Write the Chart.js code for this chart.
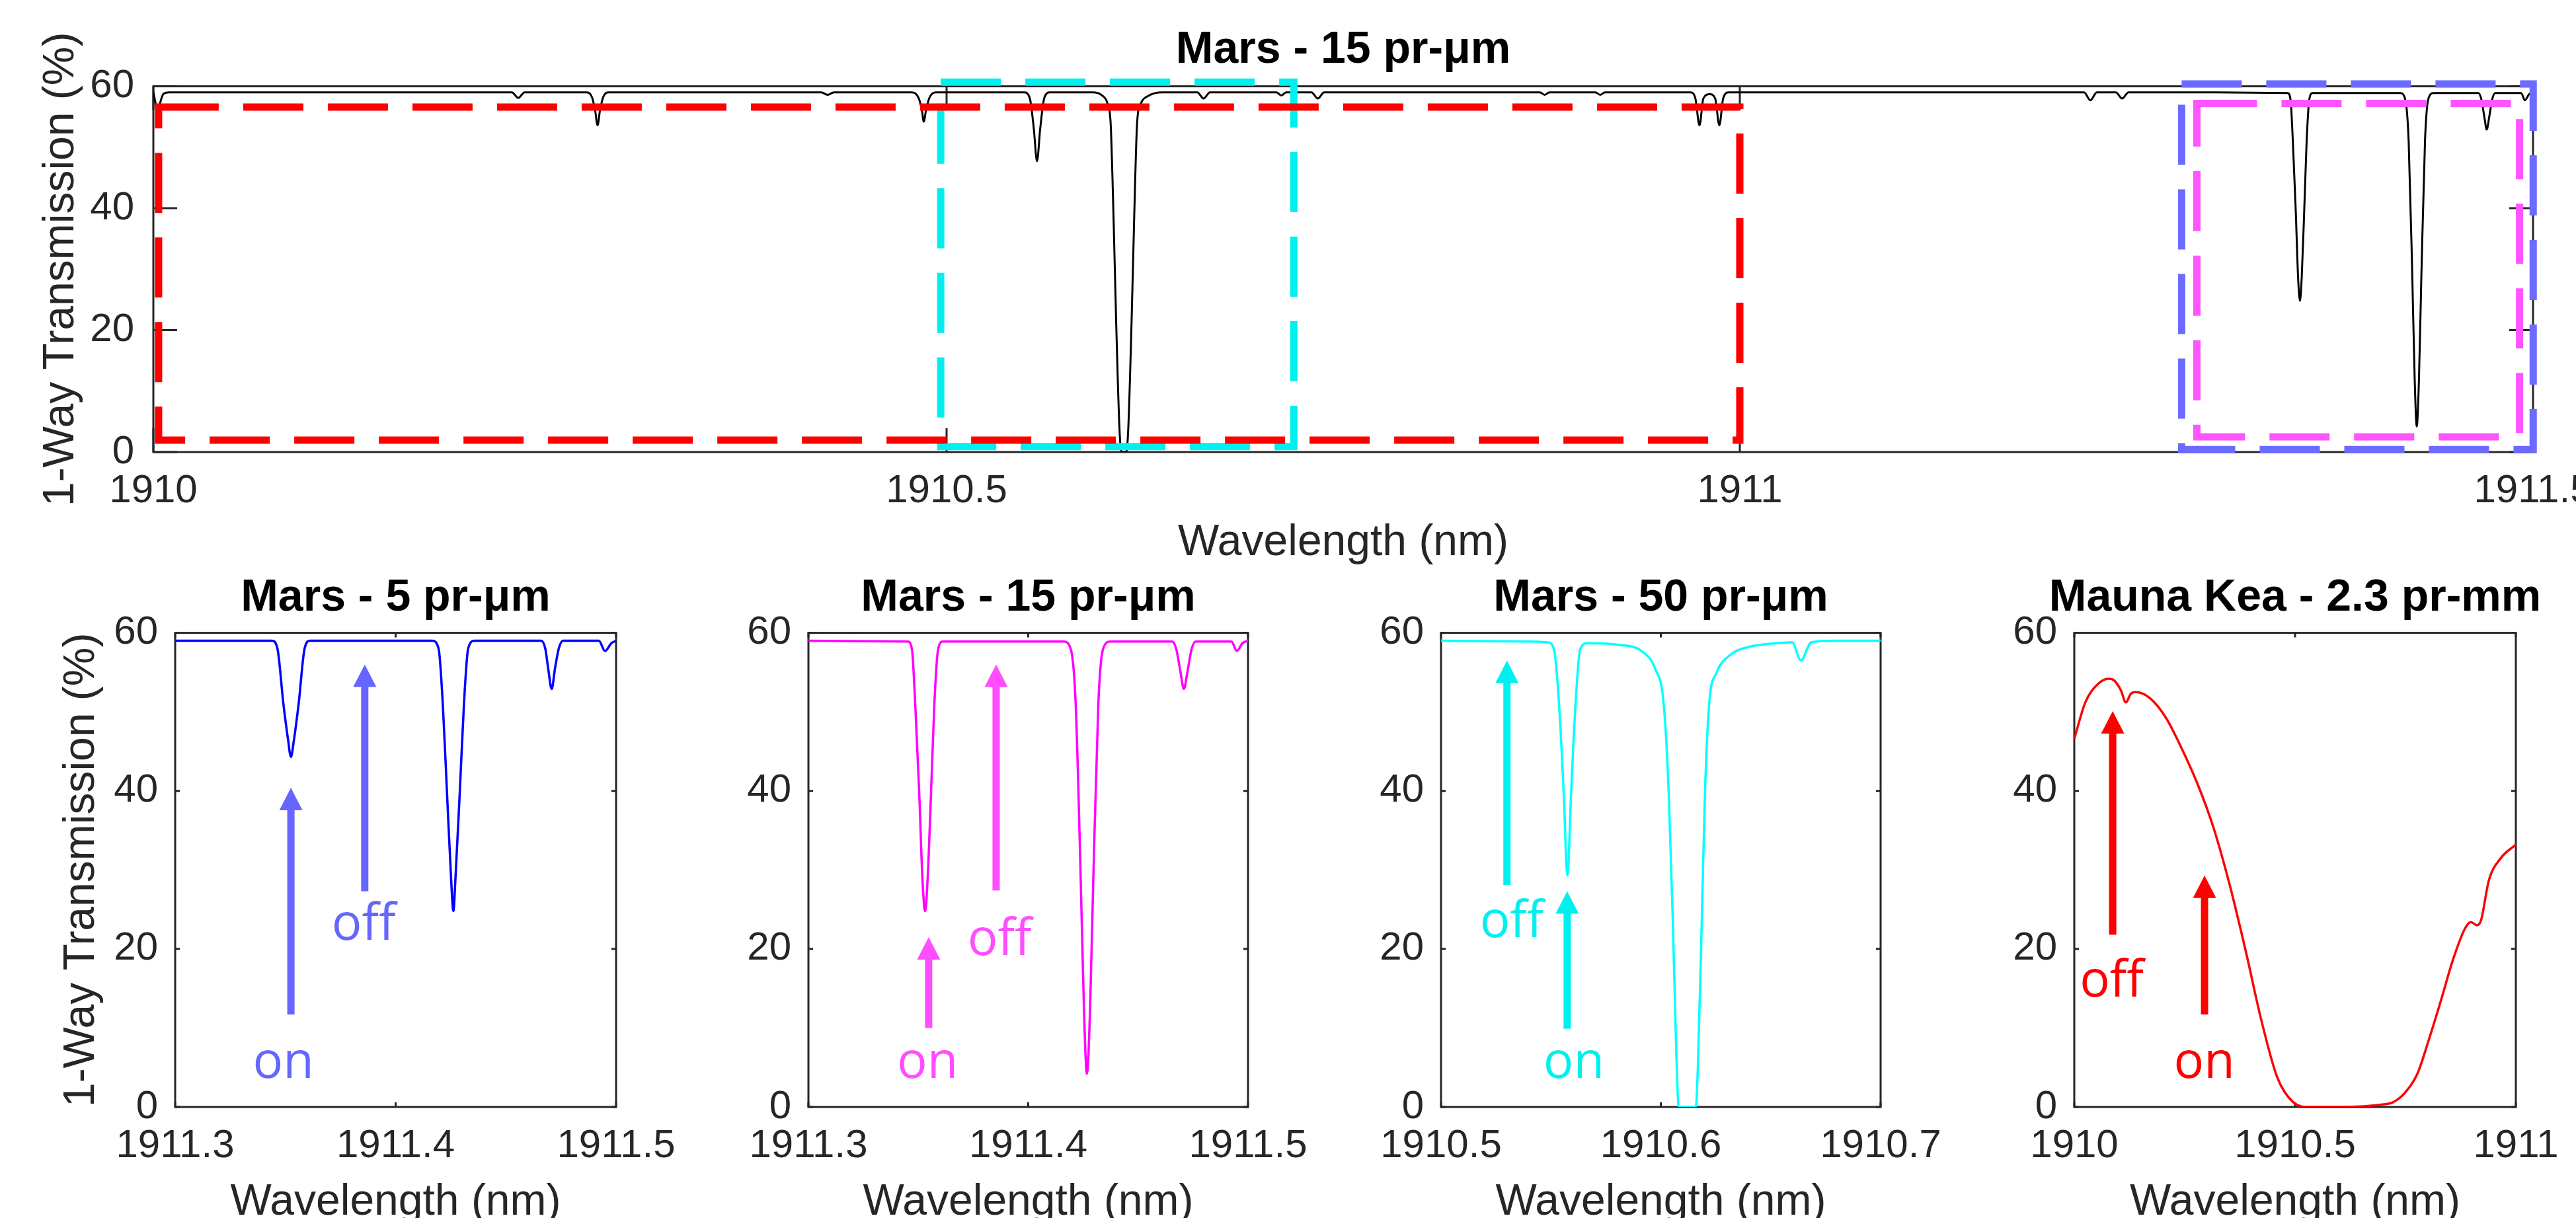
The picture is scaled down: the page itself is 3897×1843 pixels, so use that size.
<!DOCTYPE html>
<html>
<head>
<meta charset="utf-8">
<script src="https://cdn.jsdelivr.net/npm/chart.js@4.4.1/dist/chart.umd.min.js"></script>
<style>
html, body { margin: 0; padding: 0; background: #fff; }
body { width: 3897px; height: 1843px; position: relative; overflow: hidden; }
.wrap { position: absolute; }
</style>
</head>
<body>
<div class="wrap" style="left:0;top:0;width:3897px;height:880px"><canvas id="chart-top"></canvas></div>
<div class="wrap" style="left:0;top:800px;width:1050px;height:1080px"><canvas id="chart-mars5"></canvas></div>
<div class="wrap" style="left:1000px;top:800px;width:1050px;height:1080px"><canvas id="chart-mars15"></canvas></div>
<div class="wrap" style="left:2000px;top:800px;width:1000px;height:1080px"><canvas id="chart-mars50"></canvas></div>
<div class="wrap" style="left:2950px;top:800px;width:947px;height:1080px"><canvas id="chart-mauna"></canvas></div>
<script>
// tick values
const yTicks = [0, 20, 40, 60];
const wideTicks = [1910, 1910.5, 1911, 1911.5];
const nearTicks = [1911.3, 1911.4, 1911.5];
const mars50Ticks = [1910.5, 1910.6, 1910.7];
const maunaTicks = [1910, 1910.5, 1911];

// spectra, [wavelength nm, transmission %]
const marsWide = [
	[1910.000, 59.0], [1910.0012, 57.5], [1910.0027, 55.2], [1910.0042, 57.2], [1910.0065, 58.8], [1910.010, 59.0],
	[1910.226, 59.0], [1910.230, 58.1], [1910.234, 59.0],
	[1910.273, 59.0], [1910.2765, 58.2], [1910.2785, 56.0], [1910.280, 53.6], [1910.2815, 56.0], [1910.2835, 58.2], [1910.287, 59.0],
	[1910.421, 59.0], [1910.425, 58.6], [1910.429, 59.0],
	[1910.478, 59.0], [1910.4825, 58.0], [1910.4845, 56.0], [1910.4856, 54.2], [1910.487, 56.0], [1910.489, 58.0], [1910.493, 59.0],
	[1910.549, 59.0], [1910.5525, 58.0], [1910.555, 53.0], [1910.557, 47.7], [1910.559, 53.0], [1910.5615, 58.0], [1910.565, 59.0],
	[1910.592, 59.0], [1910.598, 58.5], [1910.6014, 57.2], [1910.6034, 54.0], [1910.6052, 38.9], [1910.6069, 21.3], [1910.6090, 3.7],
	[1910.6103, 0], [1910.6132, 0], [1910.6145, 3.7], [1910.6166, 21.3], [1910.6183, 38.9], [1910.6201, 54.0], [1910.6225, 57.2],
	[1910.627, 58.4], [1910.636, 59.0],
	[1910.658, 59.0], [1910.662, 58.0], [1910.666, 59.0],
	[1910.708, 59.0], [1910.711, 58.5], [1910.714, 59.0],
	[1910.730, 59.0], [1910.734, 58.0], [1910.738, 59.0],
	[1910.874, 59.0], [1910.877, 58.6], [1910.880, 59.0],
	[1910.909, 59.0], [1910.912, 58.6], [1910.915, 59.0],
	[1910.969, 59.0], [1910.972, 58.0], [1910.9746, 53.6], [1910.977, 58.0], [1910.981, 58.7], [1910.9845, 58.0], [1910.9871, 53.6],
	[1910.9895, 58.0], [1910.993, 59.0],
	[1911.217, 59.0], [1911.221, 57.7], [1911.225, 59.0],
	[1911.237, 59.0], [1911.241, 58.0], [1911.245, 59.0]
];
const marsFifteen = [
	[1911.300, 59.0], [1911.3452, 58.9], [1911.3471, 57.9], [1911.3486, 51.0], [1911.3504, 39.8], [1911.3519, 28.7], [1911.3531, 24.8],
	[1911.3542, 28.7], [1911.3558, 39.8], [1911.3573, 51.0], [1911.3590, 57.9], [1911.3611, 58.9],
	[1911.4162, 58.9], [1911.4194, 57.9], [1911.4216, 51.0], [1911.4239, 28.7], [1911.4254, 12.0], [1911.4267, 4.2],
	[1911.4281, 12.0], [1911.4296, 28.7], [1911.4319, 51.0], [1911.4340, 57.9], [1911.4373, 58.9],
	[1911.4655, 58.9], [1911.4674, 57.9], [1911.4693, 55.0], [1911.4708, 52.9], [1911.4724, 55.0], [1911.4743, 57.9], [1911.4762, 58.9],
	[1911.4925, 58.9], [1911.4949, 57.7], [1911.4975, 58.7], [1911.500, 59.0]
];
const marsFive = [
	[1911.300, 59.0], [1911.3439, 59.0], [1911.3464, 58.0], [1911.3491, 51.0], [1911.3512, 46.5], [1911.3525, 44.3],
	[1911.3539, 46.5], [1911.3560, 51.0], [1911.3587, 58.0], [1911.3612, 59.0],
	[1911.4166, 59.0], [1911.4195, 58.0], [1911.4214, 51.0], [1911.4233, 39.8], [1911.4252, 28.7], [1911.4262, 24.8],
	[1911.4271, 28.7], [1911.4291, 39.8], [1911.4310, 51.0], [1911.4329, 58.0], [1911.4358, 59.0],
	[1911.4660, 59.0], [1911.4679, 58.0], [1911.4692, 55.5], [1911.4708, 52.9], [1911.4723, 55.5], [1911.4740, 58.0], [1911.4759, 59.0],
	[1911.4922, 59.0], [1911.4950, 57.7], [1911.4979, 58.7], [1911.500, 59.0]
];
const marsFifty = [
	[1910.500, 59.0], [1910.540, 58.9], [1910.5485, 58.8], [1910.5514, 57.9], [1910.5537, 51.0], [1910.5558, 39.8], [1910.5575, 29.3],
	[1910.5592, 39.8], [1910.5612, 51.0], [1910.5633, 57.9], [1910.5668, 58.7], [1910.5802, 58.5], [1910.5917, 57.6],
	[1910.5975, 55.4], [1910.6013, 51.0], [1910.6036, 39.8], [1910.6055, 23.1], [1910.6071, 6.4], [1910.6080, 0.3], [1910.6085, 0],
	[1910.6156, 0], [1910.6161, 0.3], [1910.6170, 6.4], [1910.6186, 23.1], [1910.6201, 39.8], [1910.6220, 51.0], [1910.6253, 54.9],
	[1910.6311, 57.1], [1910.6397, 58.2], [1910.6531, 58.7], [1910.6598, 58.8], [1910.6637, 56.5], [1910.6685, 58.8],
	[1910.680, 59.0], [1910.700, 59.0]
];
const maunaKea = [
	[1910.000, 46.6], [1910.025, 51.2], [1910.053, 53.5], [1910.078, 54.2], [1910.090, 54.0], [1910.105, 52.8], [1910.117, 51.2],
	[1910.128, 52.3], [1910.139, 52.5], [1910.170, 51.8], [1910.207, 49.3], [1910.243, 45.4], [1910.279, 40.9], [1910.315, 35.4],
	[1910.352, 28.1], [1910.388, 19.8], [1910.424, 10.9], [1910.460, 3.7], [1910.496, 0.6], [1910.532, 0], [1910.600, 0],
	[1910.695, 0.3], [1910.722, 0.6], [1910.749, 1.8], [1910.777, 4.2], [1910.804, 8.7], [1910.831, 13.6], [1910.858, 18.7],
	[1910.885, 22.6], [1910.898, 23.4], [1910.912, 23.0], [1910.921, 23.6], [1910.939, 28.7], [1910.966, 31.5], [1911.000, 33.2]
];

// zoom windows on the top panel: [x from, x to, y from, y to]
const zoomBoxes = [
	[1910.4963, 1910.7189, 0.9, 60.7],
	[1910.0033, 1911.0, 1.95, 56.6],
	[1911.2785, 1911.5001, 0.4, 60.4],
	[1911.2881, 1911.4915, 2.5, 57.2]
];
const zoomBoxColors = ['#00F0F0', '#FF0000', '#6B6BFF', '#FF55FF'];

// on/off arrows: [wavelength, tail %, tip %] and labels: [text, wavelength, baseline %]
const mars5Arrows = [[1911.3525, 11.7, 40.4], [1911.3860, 27.3, 56.0]];
const mars5Labels = [['on', 1911.3491, 3.7], ['off', 1911.3855, 21.2]];
const mars15Arrows = [[1911.3547, 10.0, 21.5], [1911.3854, 27.4, 56.0]];
const mars15Labels = [['on', 1911.3542, 3.7], ['off', 1911.3870, 19.2]];
const mars50Arrows = [[1910.5300, 28.1, 56.5], [1910.5574, 9.9, 27.3]];
const mars50Labels = [['off', 1910.5322, 21.5], ['on', 1910.5604, 3.7]];
const maunaArrows = [[1910.087, 21.8, 50.1], [1910.295, 11.7, 29.3]];
const maunaLabels = [['off', 1910.0847, 14.0], ['on', 1910.2945, 3.7]];

Chart.defaults.font.family = '"Liberation Sans", Arial, sans-serif';
Chart.defaults.color = '#262626';

const pts = list => list.map(p => ({ x: p[0], y: p[1] }));

// matlab style box with inward ticks on all four sides
const frame = tickLength => ({
	id: 'frame',
	afterLayout(chart) {
		// let long titles run past the plot edges instead of being squeezed
		const t = chart.titleBlock;
		if (t) {
			t.left -= 150;
			t.right += 150;
		}
	},
	beforeDatasetsDraw(chart) {
		const { ctx, chartArea: a, scales } = chart;
		ctx.save();
		ctx.strokeStyle = '#262626';
		ctx.lineWidth = 3;
		ctx.strokeRect(a.left, a.top, a.right - a.left, a.bottom - a.top);
		ctx.beginPath();
		scales.x.ticks.forEach(t => {
			const px = scales.x.getPixelForValue(t.value);
			ctx.moveTo(px, a.bottom); ctx.lineTo(px, a.bottom - tickLength);
			ctx.moveTo(px, a.top); ctx.lineTo(px, a.top + tickLength);
		});
		scales.y.ticks.forEach(t => {
			const py = scales.y.getPixelForValue(t.value);
			ctx.moveTo(a.left, py); ctx.lineTo(a.left + tickLength, py);
			ctx.moveTo(a.right, py); ctx.lineTo(a.right - tickLength, py);
		});
		ctx.stroke();
		ctx.restore();
	}
});

const marks = notes => ({
	id: 'marks',
	afterDatasetsDraw(chart) {
		const { ctx, scales: { x, y } } = chart;
		ctx.save();
		(notes.boxes || []).forEach((b, i) => {
			const x0 = x.getPixelForValue(b[0]), x1 = x.getPixelForValue(b[1]);
			const y0 = y.getPixelForValue(b[2]), y1 = y.getPixelForValue(b[3]);
			ctx.strokeStyle = notes.boxColors[i];
			ctx.lineWidth = 11;
			ctx.setLineDash([91, 37]);
			ctx.strokeRect(x0, y1, x1 - x0, y0 - y1);
		});
		ctx.setLineDash([]);
		ctx.fillStyle = notes.color;
		(notes.arrows || []).forEach(ar => {
			const px = x.getPixelForValue(ar[0]);
			const tail = y.getPixelForValue(ar[1]), tip = y.getPixelForValue(ar[2]);
			ctx.fillRect(px - 5.5, tip + 32, 11, tail - tip - 32);
			ctx.beginPath();
			ctx.moveTo(px, tip);
			ctx.lineTo(px - 17.5, tip + 34);
			ctx.lineTo(px + 17.5, tip + 34);
			ctx.closePath();
			ctx.fill();
		});
		ctx.font = '76px "Open Sans", sans-serif';
		ctx.textAlign = 'center';
		ctx.textBaseline = 'alphabetic';
		(notes.labels || []).forEach(l => {
			ctx.fillText(l[0], x.getPixelForValue(l[1]), y.getPixelForValue(l[2]));
		});
		ctx.restore();
	}
});

const build = (id, s) => new Chart(document.getElementById(id), {
	type: 'line',
	data: {
		datasets: [{
			data: pts(s.data),
			borderColor: s.color,
			borderWidth: s.lineWidth,
			pointRadius: 0,
			cubicInterpolationMode: 'monotone',
			fill: false
		}]
	},
	options: {
		responsive: true,
		maintainAspectRatio: false,
		animation: false,
		devicePixelRatio: 1,
		events: [],
		layout: { padding: { left: 0, right: s.padRight, top: 0, bottom: 0 } },
		plugins: {
			legend: { display: false },
			tooltip: { enabled: false },
			title: {
				display: true,
				text: s.title,
				fullSize: false,
				color: '#000',
				font: { size: 68, weight: 'bold' },
				padding: { top: s.titleTop, bottom: s.titleBottom }
			}
		},
		scales: {
			x: {
				type: 'linear',
				min: s.ticks[0],
				max: s.ticks[s.ticks.length - 1],
				grid: { display: false, drawTicks: false },
				border: { display: false },
				afterBuildTicks: scale => { scale.ticks = s.ticks.map(v => ({ value: v })); },
				ticks: { padding: 23, maxRotation: 0, minRotation: 0, autoSkip: false, color: '#262626', font: { size: 60 }, callback: v => String(v) },
				title: { display: true, text: 'Wavelength (nm)', color: '#262626', font: { size: 66 }, padding: { top: 0, bottom: s.xTitleBottom } },
				afterFit: scale => { scale.height = s.xHeight; scale.paddingLeft = 0; scale.paddingRight = 0; }
			},
			y: {
				type: 'linear',
				min: 0,
				max: 60,
				grid: { display: false, drawTicks: false },
				border: { display: false },
				afterBuildTicks: scale => { scale.ticks = yTicks.map(v => ({ value: v })); },
				ticks: { padding: s.yPad, autoSkip: false, color: '#262626', font: { size: 60 }, callback: v => String(v) },
				title: { display: s.yTitle, text: '1-Way Transmission (%)', color: '#262626', font: { size: 66 }, padding: { top: s.yTitleTop, bottom: 0 } },
				afterFit: scale => { scale.width = s.yWidth; scale.paddingTop = 0; scale.paddingBottom = 0; }
			}
		}
	},
	plugins: [frame(s.tickLength), marks(s.notes)]
});

build('chart-top', {
	title: 'Mars - 15 pr-μm', data: marsWide.concat(marsFifteen), color: '#000', lineWidth: 3, ticks: wideTicks,
	padRight: 65, titleTop: 35, titleBottom: 14, xHeight: 196, xTitleBottom: 19, yWidth: 232, yPad: 29,
	yTitle: true, yTitleTop: 53, tickLength: 36,
	notes: { boxes: zoomBoxes, boxColors: zoomBoxColors }
});
const lower = { lineWidth: 3.5, titleTop: 64, titleBottom: 12, xHeight: 205, xTitleBottom: 21, yPad: 26, tickLength: 7 };
build('chart-mars5', Object.assign({}, lower, {
	title: 'Mars - 5 pr-μm', data: marsFive, color: '#0000FF', ticks: nearTicks, padRight: 118, yWidth: 265,
	yTitle: true, yTitleTop: 84, notes: { color: '#6666FF', arrows: mars5Arrows, labels: mars5Labels }
}));
build('chart-mars15', Object.assign({}, lower, {
	title: 'Mars - 15 pr-μm', data: marsFifteen, color: '#FF00FF', ticks: nearTicks, padRight: 162, yWidth: 223,
	yTitle: false, yTitleTop: 0, notes: { color: '#FF4DFF', arrows: mars15Arrows, labels: mars15Labels }
}));
build('chart-mars50', Object.assign({}, lower, {
	title: 'Mars - 50 pr-μm', data: marsFifty, color: '#00FFFF', ticks: mars50Ticks, padRight: 155, yWidth: 180,
	yTitle: false, yTitleTop: 0, notes: { color: '#00F0F0', arrows: mars50Arrows, labels: mars50Labels }
}));
build('chart-mauna', Object.assign({}, lower, {
	title: 'Mauna Kea - 2.3 pr-mm', data: maunaKea, color: '#FF0000', ticks: maunaTicks, padRight: 91, yWidth: 188,
	yTitle: false, yTitleTop: 0, notes: { color: '#FF0000', arrows: maunaArrows, labels: maunaLabels }
}));
</script>
</body>
</html>
